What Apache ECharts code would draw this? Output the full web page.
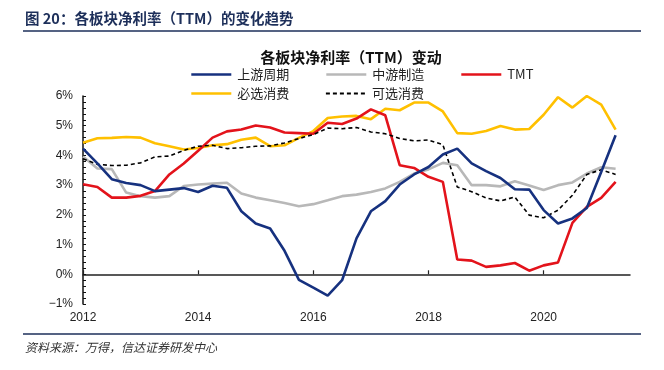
<!DOCTYPE html>
<html>
<head>
<meta charset="utf-8">
<script src="https://cdn.jsdelivr.net/npm/echarts@6/dist/echarts.min.js"></script>
<style>
html,body{margin:0;padding:0;background:#fff;}
#c{width:664px;height:370px;}
</style>
</head>
<body>
<div id="c"></div>
<script>
// Quarterly periods (last one is axis padding with no data)
const periods = [
  '2012Q1','2012Q2','2012Q3','2012Q4','2013Q1','2013Q2','2013Q3','2013Q4',
  '2014Q1','2014Q2','2014Q3','2014Q4','2015Q1','2015Q2','2015Q3','2015Q4',
  '2016Q1','2016Q2','2016Q3','2016Q4','2017Q1','2017Q2','2017Q3','2017Q4',
  '2018Q1','2018Q2','2018Q3','2018Q4','2019Q1','2019Q2','2019Q3','2019Q4',
  '2020Q1','2020Q2','2020Q3','2020Q4','2021Q1','2021Q2','2021Q3'
];
const yTicks = [-1, 0, 1, 2, 3, 4, 5, 6];

const upstream = [4.23,3.73,3.20,3.07,3.00,2.80,2.85,2.90,2.77,2.98,
  2.91,2.12,1.71,1.54,0.79,-0.19,-0.45,-0.72,-0.20,1.21,
  2.12,2.46,3.02,3.36,3.61,4.03,4.23,3.73,3.47,3.24,
  2.86,2.85,2.16,1.71,1.88,2.23,3.44,4.68];
const midstream = [3.96,3.56,3.54,2.75,2.63,2.58,2.63,2.97,3.02,3.05,
  3.08,2.72,2.58,2.49,2.40,2.29,2.36,2.49,2.63,2.68,
  2.77,2.89,3.11,3.39,3.53,3.75,3.67,3.00,3.00,2.96,
  3.13,2.99,2.84,3.00,3.09,3.39,3.60,3.55];
const tmt = [3.03,2.94,2.58,2.58,2.64,2.80,3.36,3.73,4.16,4.60,
  4.81,4.87,5.01,4.94,4.77,4.75,4.73,5.10,5.06,5.24,
  5.55,5.35,3.67,3.58,3.28,3.11,0.50,0.46,0.25,0.30,
  0.38,0.12,0.30,0.40,1.73,2.27,2.57,3.11];
const staples = [4.43,4.58,4.59,4.62,4.60,4.41,4.31,4.20,4.25,4.34,
  4.38,4.53,4.60,4.31,4.34,4.59,4.82,5.26,5.31,5.33,
  5.22,5.57,5.52,5.78,5.78,5.48,4.75,4.73,4.82,4.99,
  4.87,4.89,5.37,5.96,5.61,6.00,5.71,4.87];
const discretionary = [3.89,3.70,3.66,3.67,3.75,3.95,3.98,4.17,4.31,4.34,
  4.23,4.26,4.31,4.32,4.42,4.57,4.70,4.92,4.90,4.94,
  4.79,4.73,4.57,4.49,4.52,4.36,2.94,2.78,2.57,2.47,
  2.60,1.99,1.90,2.16,2.66,3.36,3.52,3.36];

const names = ['上游周期','中游制造','TMT','必选消费','可选消费'];
const colors = ['#16317f','#b8b8b8','#e3131b','#ffc000','#000000'];
const dataSets = [upstream, midstream, tmt, staples, discretionary];

const chart = echarts.init(document.getElementById('c'), null, {renderer:'canvas'});

const legendPos = [[190,68],[325,68],[460,68],[190,87],[325,87]];
const legends = names.map((n,i)=>({
  data:[n], left: legendPos[i][0], top: legendPos[i][1],
  itemWidth: 40, itemHeight: 14, itemGap: 0, padding: 0,
  itemStyle:{opacity:0, borderWidth:0},
  lineStyle:{color:colors[i], width: i===4 ? 1.8 : 2.6, type: i===4 ? [4,3] : 'solid', opacity:1},
  textStyle:{fontSize:13, color:'#222', fontFamily:'Noto Sans CJK SC', padding:[0,0,0,1]}
}));

const series = names.map((n,i)=>({
  name: n, type:'line', data: dataSets[i], xAxisIndex:0, yAxisIndex:0,
  symbol:'none', smooth:false,
  lineStyle: i===4 ? {color:colors[i], width:1.6, type:[4,3]} : {color:colors[i], width:2.6},
  itemStyle:{color:colors[i]}
}));
series[0].z = 6; series[4].z = 5; series[2].z = 4; series[3].z = 3; series[1].z = 2;

chart.setOption({
  animation:false,
  backgroundColor:'#fff',
  textStyle:{fontFamily:'Liberation Sans, Arial, sans-serif'},
  graphic:[
    {type:'text', left:25, top:11, style:{text:'图 20：各板块净利率（TTM）的变化趋势', font:'bold 14.5px "Noto Sans CJK SC"', fill:'#1d2f5a'}},
    {type:'line', shape:{x1:23,y1:31,x2:641,y2:31}, style:{stroke:'#1d2f5a', lineWidth:1.5}},
    {type:'text', x:351, y:57, style:{text:'各板块净利率（TTM）变动', font:'bold 15px "Noto Sans CJK SC"', fill:'#111', align:'center', verticalAlign:'middle'}},
    {type:'line', shape:{x1:23,y1:334,x2:641,y2:334}, style:{stroke:'#1d2f5a', lineWidth:1.5}},
    {type:'text', left:25, top:341, style:{text:'资料来源：万得，信达证券研发中心', font:'italic 12px "Noto Sans CJK SC"', fill:'#333'}}
  ],
  legend: legends,
  grid:{left:83, right:34, top:96, bottom:66, containLabel:false},
  xAxis:[
    {type:'category', data:periods, boundaryGap:false, position:'bottom',
     axisLine:{show:false, onZero:false}, axisTick:{show:false},
     axisLabel:{interval:7, margin:8, fontSize:12, color:'#222',
       formatter:(v)=> v.slice(0,4)}},
    {type:'category', data:periods, boundaryGap:false, position:'bottom',
     axisLine:{show:true, onZero:true, lineStyle:{color:'#222', width:1.5}},
     axisTick:{show:true, inside:true, interval:7, length:4, lineStyle:{color:'#222', width:1.2}},
     axisLabel:{show:false}, splitLine:{show:false}}
  ],
  yAxis:{type:'value', min:yTicks[0], max:yTicks[yTicks.length-1], interval:1,
    axisLine:{show:true, lineStyle:{color:'#111', width:1.5}},
    axisTick:{show:true, inside:true, length:3, lineStyle:{color:'#111'}},
    minorTick:{show:true, splitNumber:5, length:3, lineStyle:{color:'#111'}},
    splitLine:{show:false},
    axisLabel:{margin:10, fontSize:12, color:'#222',
      formatter:(v)=> (v<0 ? '−'+Math.abs(v) : v) + '%'}},
  series: series
});
</script>
</body>
</html>
